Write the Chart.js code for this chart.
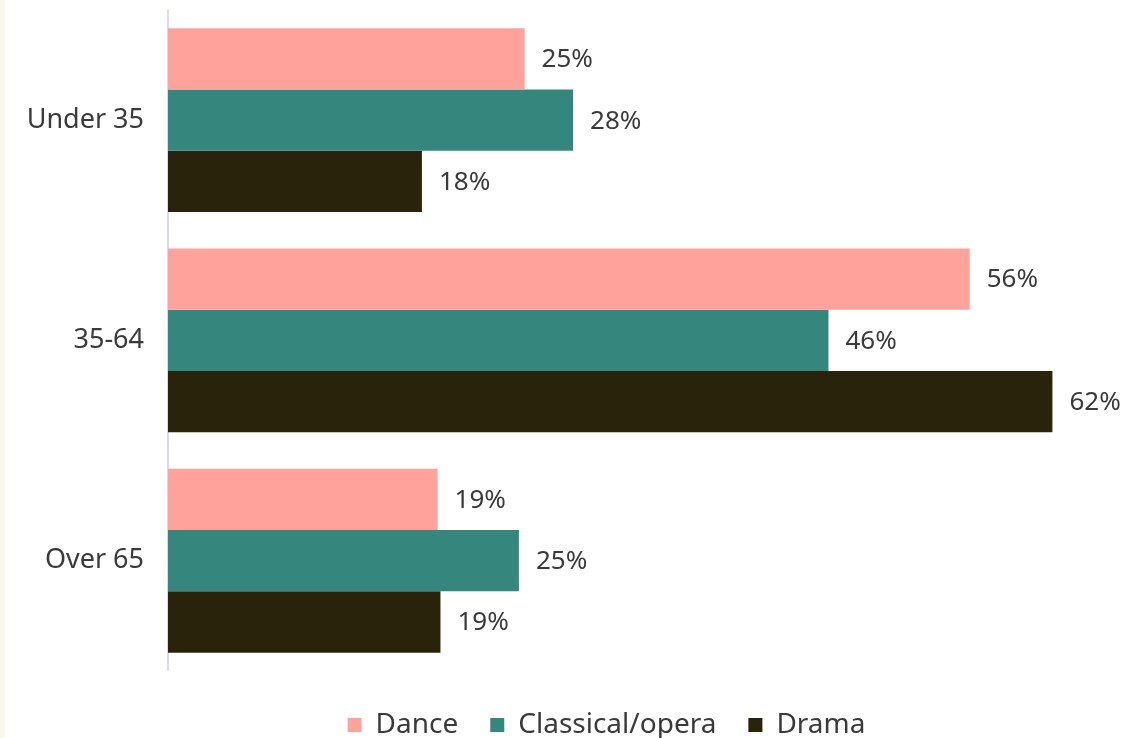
<!DOCTYPE html>
<html>
<head>
<meta charset="utf-8">
<script src="https://cdn.jsdelivr.net/npm/chart.js@4"></script>
<style>
  html, body { margin: 0; padding: 0; overflow: hidden; background: #FBF9EC; }
  #wrap { position: absolute; left: 5px; top: 0; width: 1142px; height: 749px; background: #fff; }
</style>
</head>
<body>
<div id="wrap"><canvas id="chart"></canvas></div>
<script>
// Категории и значения
const categories = ['Under 35', '35-64', 'Over 65'];
const dance = [25, 56.2, 18.9];
const classical = [28.4, 46.3, 24.6];
const drama = [17.8, 62, 19.1];
const seriesNames = ['Dance', 'Classical/opera', 'Drama'];
const seriesColors = ['#FFA29C', '#35877D', '#2A230C'];

const FONT = '"Noto Sans", sans-serif';
const TEXT = '#3A3A3A';

// Подписи значений справа от столбцов
const valueLabels = {
    id: 'valueLabels',
    afterLayout(chart) {
        // легенда в оригинале немного смещена вправо
        chart.legend.left += 70;
    },
    afterDatasetsDraw(chart) {
        const ctx = chart.ctx;
        ctx.save();
        ctx.font = '26px ' + FONT;
        ctx.fillStyle = TEXT;
        ctx.textAlign = 'left';
        ctx.textBaseline = 'middle';
        chart.data.datasets.forEach((ds, i) => {
            chart.getDatasetMeta(i).data.forEach((bar, j) => {
                ctx.fillText(Math.round(ds.data[j]) + '%', bar.x + 17, bar.y + 1);
            });
        });
        ctx.restore();
    }
};

new Chart(document.getElementById('chart'), {
    type: 'bar',
    data: {
        labels: categories,
        datasets: [dance, classical, drama].map((d, i) => ({
            label: seriesNames[i],
            data: d,
            backgroundColor: seriesColors[i],
            borderWidth: 0,
            barPercentage: 1,
            categoryPercentage: 0.835
        }))
    },
    options: {
        indexAxis: 'y',
        responsive: true,
        maintainAspectRatio: false,
        animation: false,
        layout: { padding: { top: 10, right: 9, left: 0, bottom: 0 } },
        plugins: {
            tooltip: { enabled: false },
            legend: {
                position: 'bottom',
                title: { display: true, text: '', font: { size: 1 }, padding: { top: 7, bottom: 0 } },
                labels: {
                    color: TEXT,
                    font: { family: FONT, size: 28 },
                    boxWidth: 14,
                    boxHeight: 14,
                    padding: 32
                }
            }
        },
        scales: {
            x: {
                min: 0,
                max: 68,
                display: false
            },
            y: {
                grid: { display: false, drawTicks: false },
                border: { display: true, color: '#DDD7F6', width: 2 },
                ticks: {
                    color: TEXT,
                    font: { family: FONT, size: 27 },
                    padding: 24
                },
                afterFit(scale) {
                    scale.width = 163;
                    scale.paddingTop = 0;
                    scale.paddingBottom = 0;
                }
            }
        }
    },
    plugins: [valueLabels]
});
</script>
</body>
</html>
